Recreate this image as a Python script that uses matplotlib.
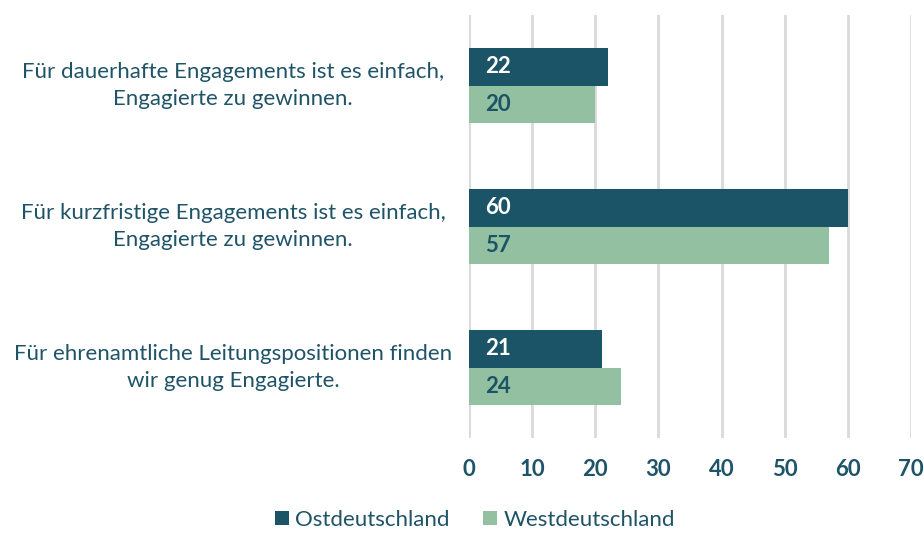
import matplotlib.pyplot as plt
import numpy as np

categories = ['Für dauerhafte Engagements ist es einfach,\nEngagierte zu gewinnen.',
              'Für kurzfristige Engagements ist es einfach,\nEngagierte zu gewinnen.',
              'Für ehrenamtliche Leitungspositionen finden\nwir genug Engagierte.']
ost = [22, 60, 21]
west = [20, 57, 24]

dark = '#1b5466'
light = '#93c0a0'
txt = '#1f5468'

plt.rcParams['font.family'] = ['Lato', 'DejaVu Sans']

fig = plt.figure(figsize=(9.24, 5.34), dpi=100)
ax = fig.add_axes([469/924, 1 - 438/534, 442/924, 423/534])

y = np.arange(len(categories))
h = 0.265
ax.barh(y - h/2, ost, height=h, color=dark, label='Ostdeutschland', zorder=3)
ax.barh(y + h/2, west, height=h, color=light, label='Westdeutschland', zorder=3)

for yi, v in zip(y, ost):
    ax.annotate(str(v), (0, yi - h/2), xytext=(11.5, 0), textcoords='offset points',
                ha='left', va='center', color='white', fontsize=16, fontweight='bold', zorder=4)
for yi, v in zip(y, west):
    ax.annotate(str(v), (0, yi + h/2), xytext=(11.5, 0), textcoords='offset points',
                ha='left', va='center', color=dark, fontsize=16, fontweight='bold', zorder=4)

ax.set_xlim(0, 70)
ax.set_ylim(2.5, -0.5)
ax.set_xticks(range(0, 71, 10))
ax.set_yticks(y)
ax.set_yticklabels(categories, fontsize=16, color=txt, ha='center', va='center',
                   multialignment='center', linespacing=1.45)
ax.tick_params(axis='y', length=0, pad=170)
ax.tick_params(axis='x', length=0, pad=15, labelsize=16, labelcolor=txt)
for lab in ax.get_xticklabels():
    lab.set_fontweight('bold')
ax.grid(axis='x', color='#d9d9d9', linewidth=2, zorder=0)
for s in ax.spines.values():
    s.set_visible(False)

ax.legend(loc='center', bbox_to_anchor=(475/924, 1 - 520/534), bbox_transform=fig.transFigure,
          ncol=2, frameon=False, fontsize=16, labelcolor=txt, handlelength=0.6, handleheight=0.6,
          handletextpad=0.3, columnspacing=1.5)

fig.savefig('out.png', dpi=100)
